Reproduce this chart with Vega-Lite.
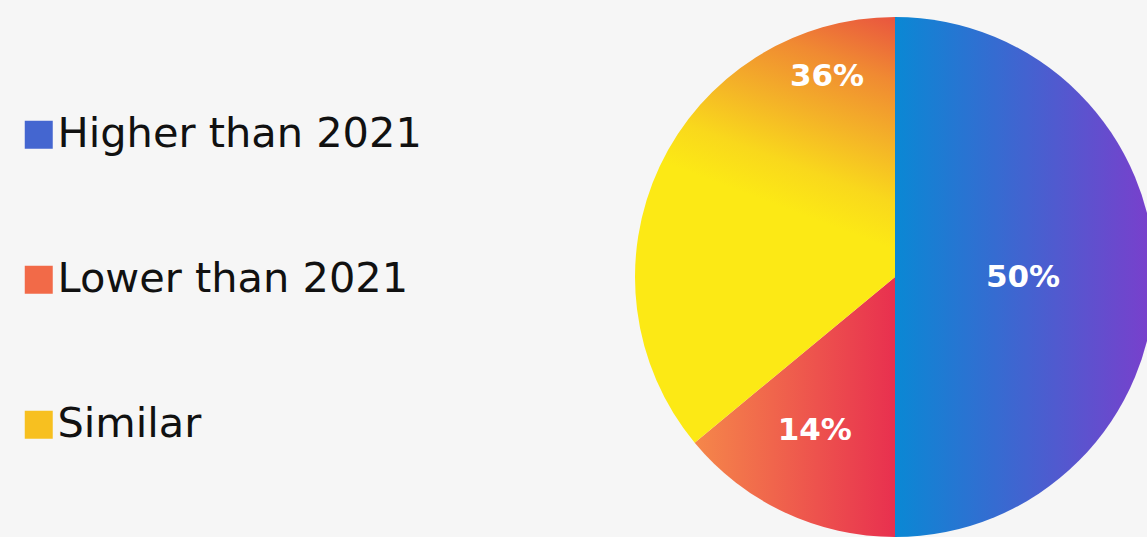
{
  "$schema": "https://vega.github.io/schema/vega-lite/v6.json",
  "width": 504,
  "height": 520,
  "autosize": {"type": "none"},
  "padding": {"left": 643, "top": 17, "right": 0, "bottom": 0},
  "background": "#f6f6f6",
  "config": {"view": {"stroke": null}},
  "data": {
    "values": [
      {"category": "Higher than 2021", "value": 50, "label": "50%"},
      {"category": "Lower than 2021", "value": 14, "label": "14%"},
      {"category": "Similar", "value": 36, "label": "36%"}
    ]
  },
  "encoding": {
    "theta": {"field": "value", "type": "quantitative", "stack": true},
    "order": {"field": "category", "type": "ordinal", "sort": "ascending"}
  },
  "layer": [
    {
      "mark": {"type": "arc", "radius": 260, "strokeWidth": 0, "opacity": 0},
      "encoding": {
        "color": {
          "field": "category",
          "type": "nominal",
          "scale": {
            "domain": ["Higher than 2021", "Lower than 2021", "Similar"],
            "range": ["#4466d0", "#f26a48", "#f7c020"]
          },
          "legend": {
            "title": null,
            "orient": "none",
            "legendX": -625,
            "legendY": 97,
            "direction": "vertical",
            "symbolType": "square",
            "symbolSize": 784,
            "symbolStrokeWidth": 0,
            "symbolOpacity": 1,
            "labelFont": "DejaVu Sans",
            "labelFontSize": 41.5,
            "labelColor": "#111111",
            "labelOffset": -2,
            "labelLimit": 700,
            "rowPadding": 102,
            "padding": 0
          }
        }
      }
    },
    {
      "mark": {
        "type": "arc",
        "radius": 260,
        "strokeWidth": 0,
        "fill": {"expr": "datum.category === 'Higher than 2021' ? {gradient: 'linear', x1: 0, y1: 0, x2: 1, y2: 0, stops: [{offset: 0, color: '#0a88d4'}, {offset: 1, color: '#7b3ecc'}]} : datum.category === 'Lower than 2021' ? {gradient: 'linear', x1: 0, y1: 0, x2: 1, y2: 0, stops: [{offset: 0, color: '#f5874a'}, {offset: 1, color: '#e8304f'}]} : {gradient: 'linear', x1: 1, y1: 0, x2: 0.88, y2: 0.52, stops: [{offset: 0, color: '#e9553f'}, {offset: 0.28, color: '#f08a32'}, {offset: 0.55, color: '#f4b228'}, {offset: 0.8, color: '#f9d81c'}, {offset: 1, color: '#fce915'}]}"}
      },
      "encoding": {"detail": {"field": "category", "type": "nominal"}}
    },
    {
      "mark": {"type": "text", "radius": 128, "dy": 1, "font": "DejaVu Sans", "fontSize": 31, "fontWeight": "bold", "color": "white"},
      "encoding": {
        "text": {"condition": {"test": "datum.category === 'Higher than 2021'", "field": "label", "type": "nominal"}, "value": ""}
      }
    },
    {
      "mark": {"type": "text", "radius": 172, "dx": -7, "dy": -2, "font": "DejaVu Sans", "fontSize": 31, "fontWeight": "bold", "color": "white"},
      "encoding": {
        "text": {"condition": {"test": "datum.category === 'Lower than 2021'", "field": "label", "type": "nominal"}, "value": ""}
      }
    },
    {
      "mark": {"type": "text", "radius": 200, "dx": 113, "dy": -115, "font": "DejaVu Sans", "fontSize": 31, "fontWeight": "bold", "color": "white"},
      "encoding": {
        "text": {"condition": {"test": "datum.category === 'Similar'", "field": "label", "type": "nominal"}, "value": ""}
      }
    }
  ]
}
